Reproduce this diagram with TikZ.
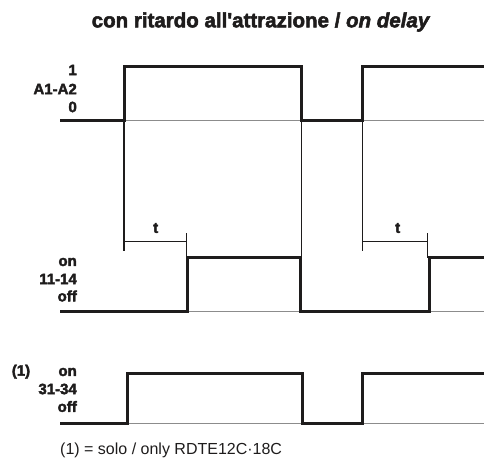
\documentclass[tikz,border=0pt]{standalone}
\usepackage{fontspec}
\setmainfont{Liberation Sans}[BoldFeatures={FakeBold=2.5},BoldItalicFeatures={FakeBold=2.5}]
\definecolor{traceink}{HTML}{1E1C1C}
\definecolor{railgray}{HTML}{8C8C8C}

\begin{document}
\begin{tikzpicture}[
  x=1pt,
  y=-1pt,
  every node/.style={traceink, inner sep=0pt},
  lbl/.style={font=\fontsize{15}{16}\selectfont\bfseries, anchor=east},
  trace/.style={traceink, line width=3pt, line join=miter},
  rail/.style={railgray, line width=1pt},
  guide/.style={traceink, line width=1.5pt}
]
  \useasboundingbox (0,0) rectangle (486,474);

  % ---- title -------------------------------------------------------------
  \node (title) at (260.5,22)
    {\fontsize{20.5}{22}\selectfont\bfseries con ritardo all\textquotesingle attrazione / \itshape on delay};

  % ---- coil A1-A2 --------------------------------------------------------
  \draw[rail] (60,120.7) -- (484,120.7);
  \draw[trace] (60,120.7) -- (124,120.7) -- (124,66.7) -- (301.7,66.7)
    -- (301.7,120.7) -- (362.7,120.7) -- (362.7,66.7) -- (484,66.7);
  \node[lbl] (coilhi) at (77,70) {1};
  \node[lbl] (coil) at (77,89) {A1-A2};
  \node[lbl] (coillo) at (77,107) {0};

  % ---- guides and the delay t ------------------------------------------
  \draw[guide] (124,120.7) -- (124,250.7);
  \draw[guide] (301.7,120.7) -- (301.7,258);
  \draw[guide] (362.7,120.7) -- (362.7,250.7);
  \draw[guide] (186.7,233) -- (186.7,258);
  \draw[guide] (427.7,233) -- (427.7,258);
  \draw[guide] (124,241.7) -- (186.7,241.7);
  \draw[guide] (362.7,241.7) -- (427.7,241.7);
  \node[font=\fontsize{15}{16}\selectfont\bfseries] (delaya) at (155.7,228) {t};
  \node[font=\fontsize{15}{16}\selectfont\bfseries] (delayb) at (397.7,228) {t};

  % ---- contact 11-14 -----------------------------------------------------
  \draw[rail] (60,311) -- (484,311);
  \draw[trace] (60,311) -- (187.5,311) -- (187.5,257.7) -- (300,257.7)
    -- (300,311) -- (429,311) -- (429,257.7) -- (484,257.7);
  \node[lbl] (nohi) at (77,262) {on};
  \node[lbl] (no) at (77,279) {11-14};
  \node[lbl] (nolo) at (77,296) {off};

  % ---- contact 31-34 -----------------------------------------------------
  \draw[rail] (60,423) -- (484,423);
  \draw[trace] (60,423) -- (127.3,423) -- (127.3,373.3) -- (302.7,373.3)
    -- (302.7,423) -- (362.7,423) -- (362.7,373.3) -- (484,373.3);
  \node[lbl, anchor=center] (mark) at (21,371.7) {(1)};
  \node[lbl] (ncohi) at (77,372) {on};
  \node[lbl] (nco) at (77,389) {31-34};
  \node[lbl] (ncolo) at (77,406.5) {off};

  % ---- footnote ----------------------------------------------------------
  \node[anchor=west, font=\fontsize{16}{17}\selectfont] (note) at (60,450)
    {(1) = solo / only RDTE12C\textperiodcentered 18C};
\end{tikzpicture}
\end{document}
